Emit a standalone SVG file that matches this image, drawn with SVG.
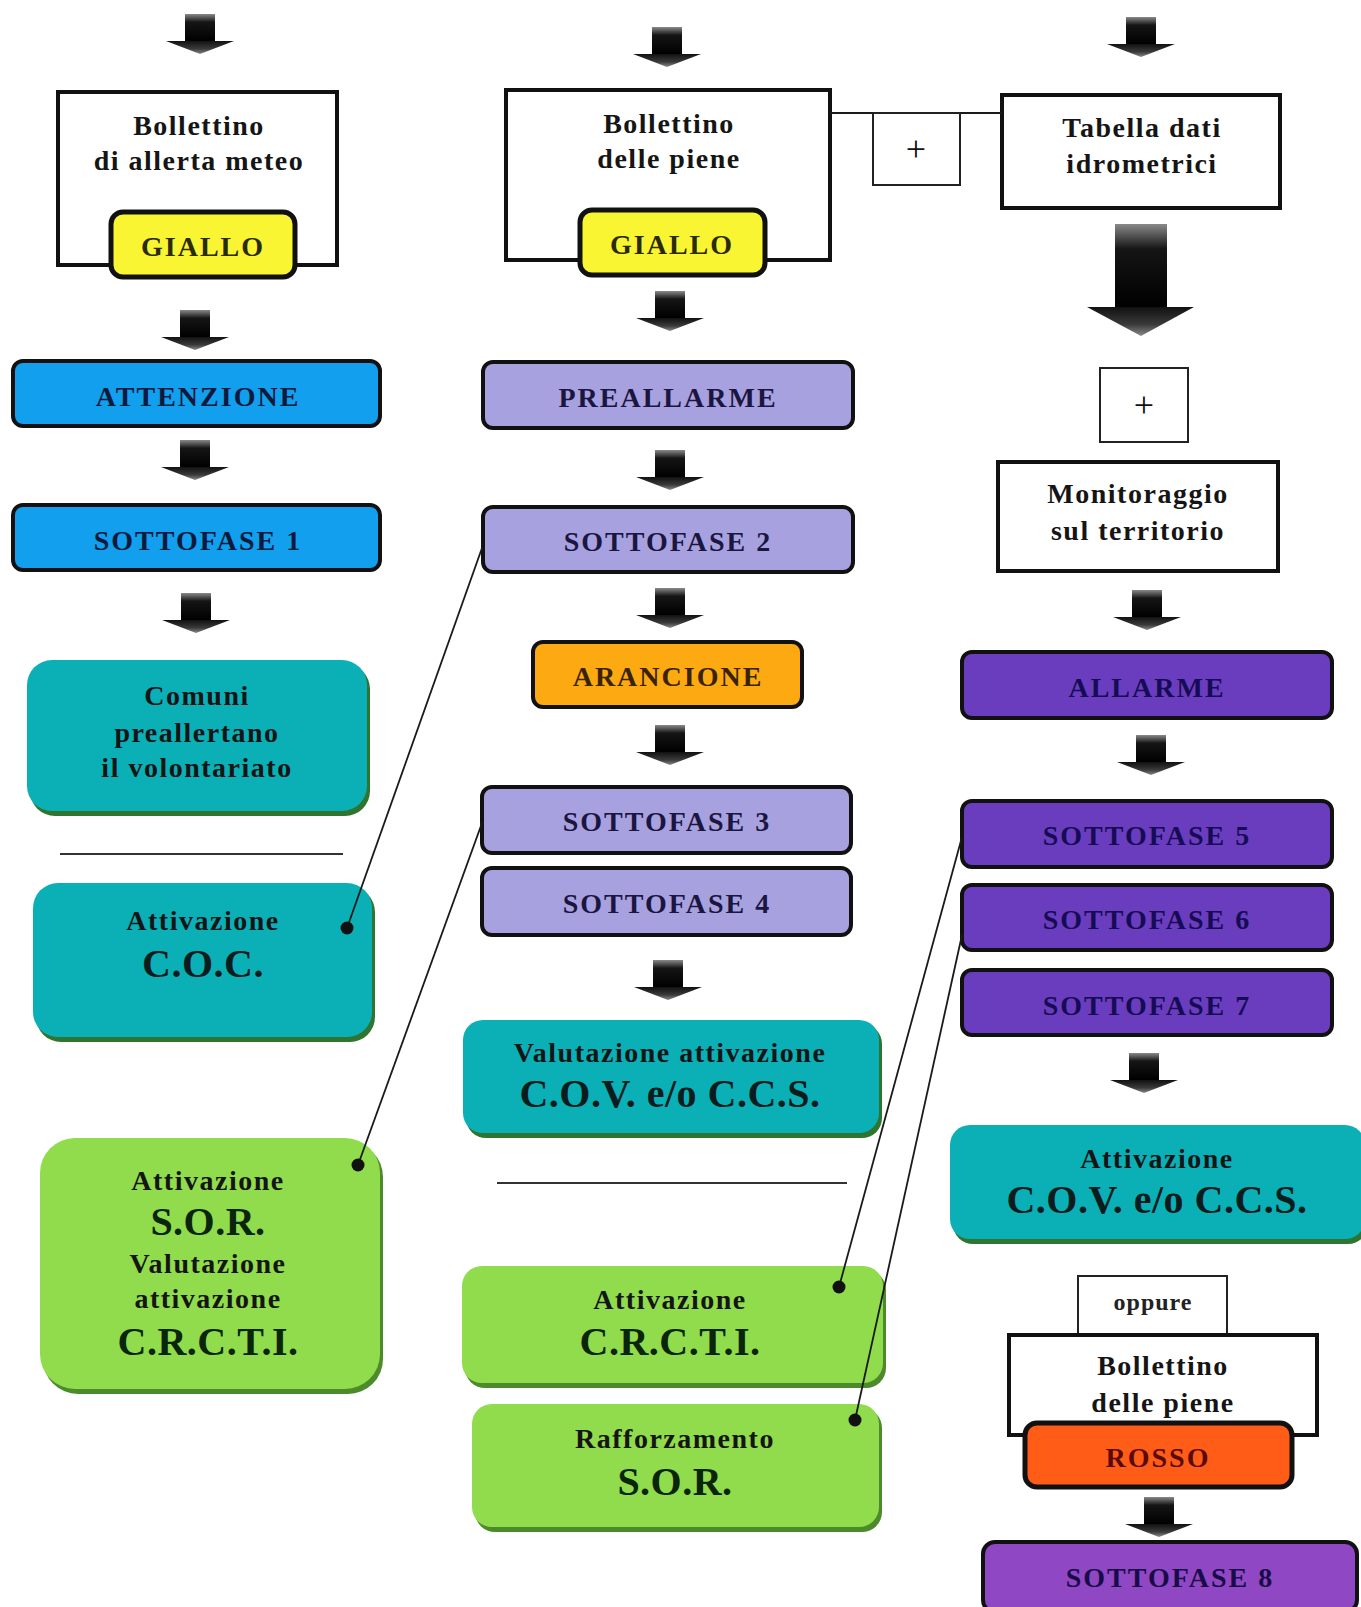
<svg xmlns="http://www.w3.org/2000/svg" xmlns:xlink="http://www.w3.org/1999/xlink" width="1361" height="1607" viewBox="0 0 1361 1607">
<style>
text{font-family:"Liberation Serif","Times New Roman",serif;font-weight:bold;text-anchor:middle}
.t{font-size:28px;letter-spacing:1.5px;fill:#151515}
.u{font-size:28px;letter-spacing:2px}
.big{font-size:40px;letter-spacing:0.5px}
.sm{font-size:24px;letter-spacing:1px;fill:#222}
.plus{font-size:36px;font-weight:normal;fill:#111}
.wbox{fill:#fff;stroke:#111;stroke-width:4}
.thin{fill:#fff;stroke:#222;stroke-width:2}
.gia{fill:#f9f532;stroke:#111;stroke-width:5}
.blu{fill:#119fee;stroke:#111;stroke-width:4}
.lav{fill:#a8a1e0;stroke:#111;stroke-width:4}
.ora{fill:#fdaa12;stroke:#111;stroke-width:4}
.vio{fill:#6a3dbf;stroke:#111;stroke-width:4}
.vio2{fill:#8f47c3;stroke:#111;stroke-width:4}
.ros{fill:#ff5c18;stroke:#111;stroke-width:5}
.teal{fill:#0bb0b7}
.tsh{fill:#2f7530}
.grn{fill:#90dc4c}
.gsh{fill:#4d8a2c}
.con{stroke:#1a1a1a;stroke-width:1.8;fill:none}
.div{stroke:#333;stroke-width:1.8}
</style>
<defs>
<linearGradient id="sg" x1="0" y1="0" x2="0" y2="1">
<stop offset="0" stop-color="#8a8a8a"/><stop offset="0.3" stop-color="#151515"/><stop offset="1" stop-color="#000"/>
</linearGradient>
<linearGradient id="hg" x1="0" y1="0" x2="0" y2="1">
<stop offset="0" stop-color="#111"/><stop offset="0.6" stop-color="#3a3a3a"/><stop offset="1" stop-color="#8a8a8a"/>
</linearGradient>
<g id="arr">
<rect x="-15" y="0" width="30" height="27" fill="url(#sg)"/>
<polygon points="-34,27 34,27 0,40" fill="url(#hg)"/>
</g>
</defs>

<g id="arrows">
<use xlink:href="#arr" x="200" y="14"/>
<use xlink:href="#arr" x="667" y="27"/>
<use xlink:href="#arr" x="1141" y="17"/>
<use xlink:href="#arr" x="195" y="310"/>
<use xlink:href="#arr" x="670" y="291"/>
<use xlink:href="#arr" x="195" y="440"/>
<use xlink:href="#arr" x="670" y="450"/>
<use xlink:href="#arr" x="196" y="593"/>
<use xlink:href="#arr" x="670" y="588"/>
<use xlink:href="#arr" x="670" y="725"/>
<use xlink:href="#arr" x="668" y="960"/>
<use xlink:href="#arr" x="1147" y="590"/>
<use xlink:href="#arr" x="1151" y="735"/>
<use xlink:href="#arr" x="1144" y="1053"/>
<use xlink:href="#arr" x="1159" y="1497"/>
<g id="bigarrow">
<rect x="1115" y="224" width="52" height="83" fill="url(#sg)"/>
<polygon points="1087,307 1194,307 1141,336" fill="url(#hg)"/>
</g>
<line class="div" x1="60" y1="854" x2="343" y2="854"/>
<line class="div" x1="497" y1="1183" x2="847" y2="1183"/>
</g>

<g id="n-boll-meteo">
<rect class="wbox" x="58" y="92" width="279" height="173"/>
<text class="t" x="199" y="135">Bollettino</text>
<text class="t" x="199" y="170">di allerta meteo</text>
</g>
<g id="n-giallo1">
<rect class="gia" x="111" y="212" width="184" height="65" rx="12"/>
<text class="u" x="203" y="256" fill="#2a2a05">GIALLO</text>
</g>

<g id="n-boll-piene">
<rect class="wbox" x="506" y="90" width="324" height="170"/>
<text class="t" x="669" y="133">Bollettino</text>
<text class="t" x="669" y="168">delle piene</text>
</g>
<g id="n-giallo2">
<rect class="gia" x="580" y="210" width="185" height="65" rx="12"/>
<text class="u" x="672" y="254" fill="#2a2a05">GIALLO</text>
</g>

<g id="n-plus1">
<rect class="thin" x="873" y="113" width="87" height="72"/>
<text class="plus" x="916" y="161">+</text>
</g>

<g id="n-tabella">
<rect class="wbox" x="1002" y="95" width="278" height="113"/>
<text class="t" x="1142" y="137">Tabella dati</text>
<text class="t" x="1142" y="173">idrometrici</text>
</g>

<g id="n-plus2">
<rect class="thin" x="1100" y="368" width="88" height="74"/>
<text class="plus" x="1144" y="417">+</text>
</g>

<g id="n-monitor">
<rect class="wbox" x="998" y="462" width="280" height="109"/>
<text class="t" x="1138" y="503">Monitoraggio</text>
<text class="t" x="1138" y="540">sul territorio</text>
</g>

<g id="n-attenzione">
<rect class="blu" x="13" y="361" width="367" height="65" rx="10"/>
<text class="u" x="198" y="406" fill="#0d1a3c">ATTENZIONE</text>
</g>
<g id="n-sf1">
<rect class="blu" x="13" y="505" width="367" height="65" rx="10"/>
<text class="u" x="198" y="550" fill="#0d1a3c">SOTTOFASE 1</text>
</g>

<g id="n-preallarme">
<rect class="lav" x="483" y="362" width="370" height="66" rx="10"/>
<text class="u" x="668" y="407" fill="#1a1640">PREALLARME</text>
</g>
<g id="n-sf2">
<rect class="lav" x="483" y="507" width="370" height="65" rx="10"/>
<text class="u" x="668" y="551" fill="#1a1640">SOTTOFASE 2</text>
</g>
<g id="n-arancione">
<rect class="ora" x="533" y="642" width="269" height="65" rx="10"/>
<text class="u" x="668" y="686" fill="#3a2205">ARANCIONE</text>
</g>
<g id="n-sf3">
<rect class="lav" x="482" y="787" width="369" height="66" rx="10"/>
<text class="u" x="667" y="831" fill="#1a1640">SOTTOFASE 3</text>
</g>
<g id="n-sf4">
<rect class="lav" x="482" y="868" width="369" height="67" rx="10"/>
<text class="u" x="667" y="913" fill="#1a1640">SOTTOFASE 4</text>
</g>

<g id="n-allarme">
<rect class="vio" x="962" y="652" width="370" height="66" rx="10"/>
<text class="u" x="1147" y="697" fill="#160c55">ALLARME</text>
</g>
<g id="n-sf5">
<rect class="vio" x="962" y="801" width="370" height="66" rx="10"/>
<text class="u" x="1147" y="845" fill="#160c55">SOTTOFASE 5</text>
</g>
<g id="n-sf6">
<rect class="vio" x="962" y="885" width="370" height="65" rx="10"/>
<text class="u" x="1147" y="929" fill="#160c55">SOTTOFASE 6</text>
</g>
<g id="n-sf7">
<rect class="vio" x="962" y="970" width="370" height="65" rx="10"/>
<text class="u" x="1147" y="1015" fill="#160c55">SOTTOFASE 7</text>
</g>

<g id="n-comuni">
<rect class="tsh" x="30" y="664" width="340" height="152" rx="25"/>
<rect class="teal" x="27" y="660" width="340" height="151" rx="25"/>
<text class="t" x="197" y="705" fill="#0a1c1c">Comuni</text>
<text class="t" x="197" y="742" fill="#0a1c1c">preallertano</text>
<text class="t" x="197" y="777" fill="#0a1c1c">il volontariato</text>
</g>
<g id="n-coc">
<rect class="tsh" x="36" y="887" width="339" height="155" rx="25"/>
<rect class="teal" x="33" y="883" width="339" height="154" rx="25"/>
<text class="t" x="203" y="930" fill="#0a1c1c">Attivazione</text>
<text class="big" x="203" y="977" fill="#0a1c1c">C.O.C.</text>
</g>

<g id="n-val-cov">
<rect class="tsh" x="466" y="1024" width="416" height="114" rx="20"/>
<rect class="teal" x="463" y="1020" width="416" height="113" rx="20"/>
<text class="t" x="670" y="1062" fill="#0a1c1c">Valutazione attivazione</text>
<text class="big" x="670" y="1107" fill="#0a1c1c">C.O.V. e/o C.C.S.</text>
</g>

<g id="n-att-cov">
<rect class="tsh" x="953" y="1129" width="415" height="115" rx="20"/>
<rect class="teal" x="950" y="1125" width="415" height="114" rx="20"/>
<text class="t" x="1157" y="1168" fill="#0a1c1c">Attivazione</text>
<text class="big" x="1157" y="1213" fill="#0a1c1c">C.O.V. e/o C.C.S.</text>
</g>

<g id="n-sor">
<rect class="gsh" x="43" y="1142" width="340" height="252" rx="35"/>
<rect class="grn" x="40" y="1138" width="340" height="251" rx="35"/>
<text class="t" x="208" y="1190" fill="#0b250b">Attivazione</text>
<text class="big" x="208" y="1235" fill="#0b250b">S.O.R.</text>
<text class="t" x="208" y="1273" fill="#0b250b">Valutazione</text>
<text class="t" x="208" y="1308" fill="#0b250b">attivazione</text>
<text class="big" x="208" y="1355" fill="#0b250b">C.R.C.T.I.</text>
</g>

<g id="n-crcti">
<rect class="gsh" x="465" y="1270" width="421" height="118" rx="20"/>
<rect class="grn" x="462" y="1266" width="421" height="117" rx="20"/>
<text class="t" x="670" y="1309" fill="#0b250b">Attivazione</text>
<text class="big" x="670" y="1355" fill="#0b250b">C.R.C.T.I.</text>
</g>

<g id="n-raff">
<rect class="gsh" x="475" y="1408" width="407" height="124" rx="20"/>
<rect class="grn" x="472" y="1404" width="407" height="123" rx="20"/>
<text class="t" x="675" y="1448" fill="#0b250b">Rafforzamento</text>
<text class="big" x="675" y="1495" fill="#0b250b">S.O.R.</text>
</g>

<g id="n-oppure">
<rect class="thin" x="1078" y="1276" width="149" height="62"/>
<text class="sm" x="1153" y="1310">oppure</text>
</g>
<g id="n-boll-rosso">
<rect class="wbox" x="1009" y="1335" width="308" height="100"/>
<text class="t" x="1163" y="1375">Bollettino</text>
<text class="t" x="1163" y="1412">delle piene</text>
</g>
<g id="n-rosso">
<rect class="ros" x="1025" y="1423" width="267" height="64" rx="12"/>
<text class="u" x="1158" y="1467" fill="#5a0a08">ROSSO</text>
</g>
<g id="n-sf8">
<rect class="vio2" x="983" y="1542" width="374" height="70" rx="12"/>
<text class="u" x="1170" y="1587" fill="#180c48">SOTTOFASE 8</text>
</g>

<g id="connectors">
<line class="con" x1="830" y1="113" x2="873" y2="113"/>
<line class="con" x1="960" y1="113" x2="1002" y2="113"/>
<line class="con" x1="482" y1="548" x2="347" y2="928"/>
<line class="con" x1="482" y1="823" x2="358" y2="1165"/>
<line class="con" x1="962" y1="837" x2="839" y2="1287"/>
<line class="con" x1="962" y1="935" x2="855" y2="1420"/>
<circle cx="347" cy="928" r="6.5" fill="#111"/>
<circle cx="358" cy="1165" r="6.5" fill="#111"/>
<circle cx="839" cy="1287" r="6.5" fill="#111"/>
<circle cx="855" cy="1420" r="6.5" fill="#111"/>
</g>
</svg>
